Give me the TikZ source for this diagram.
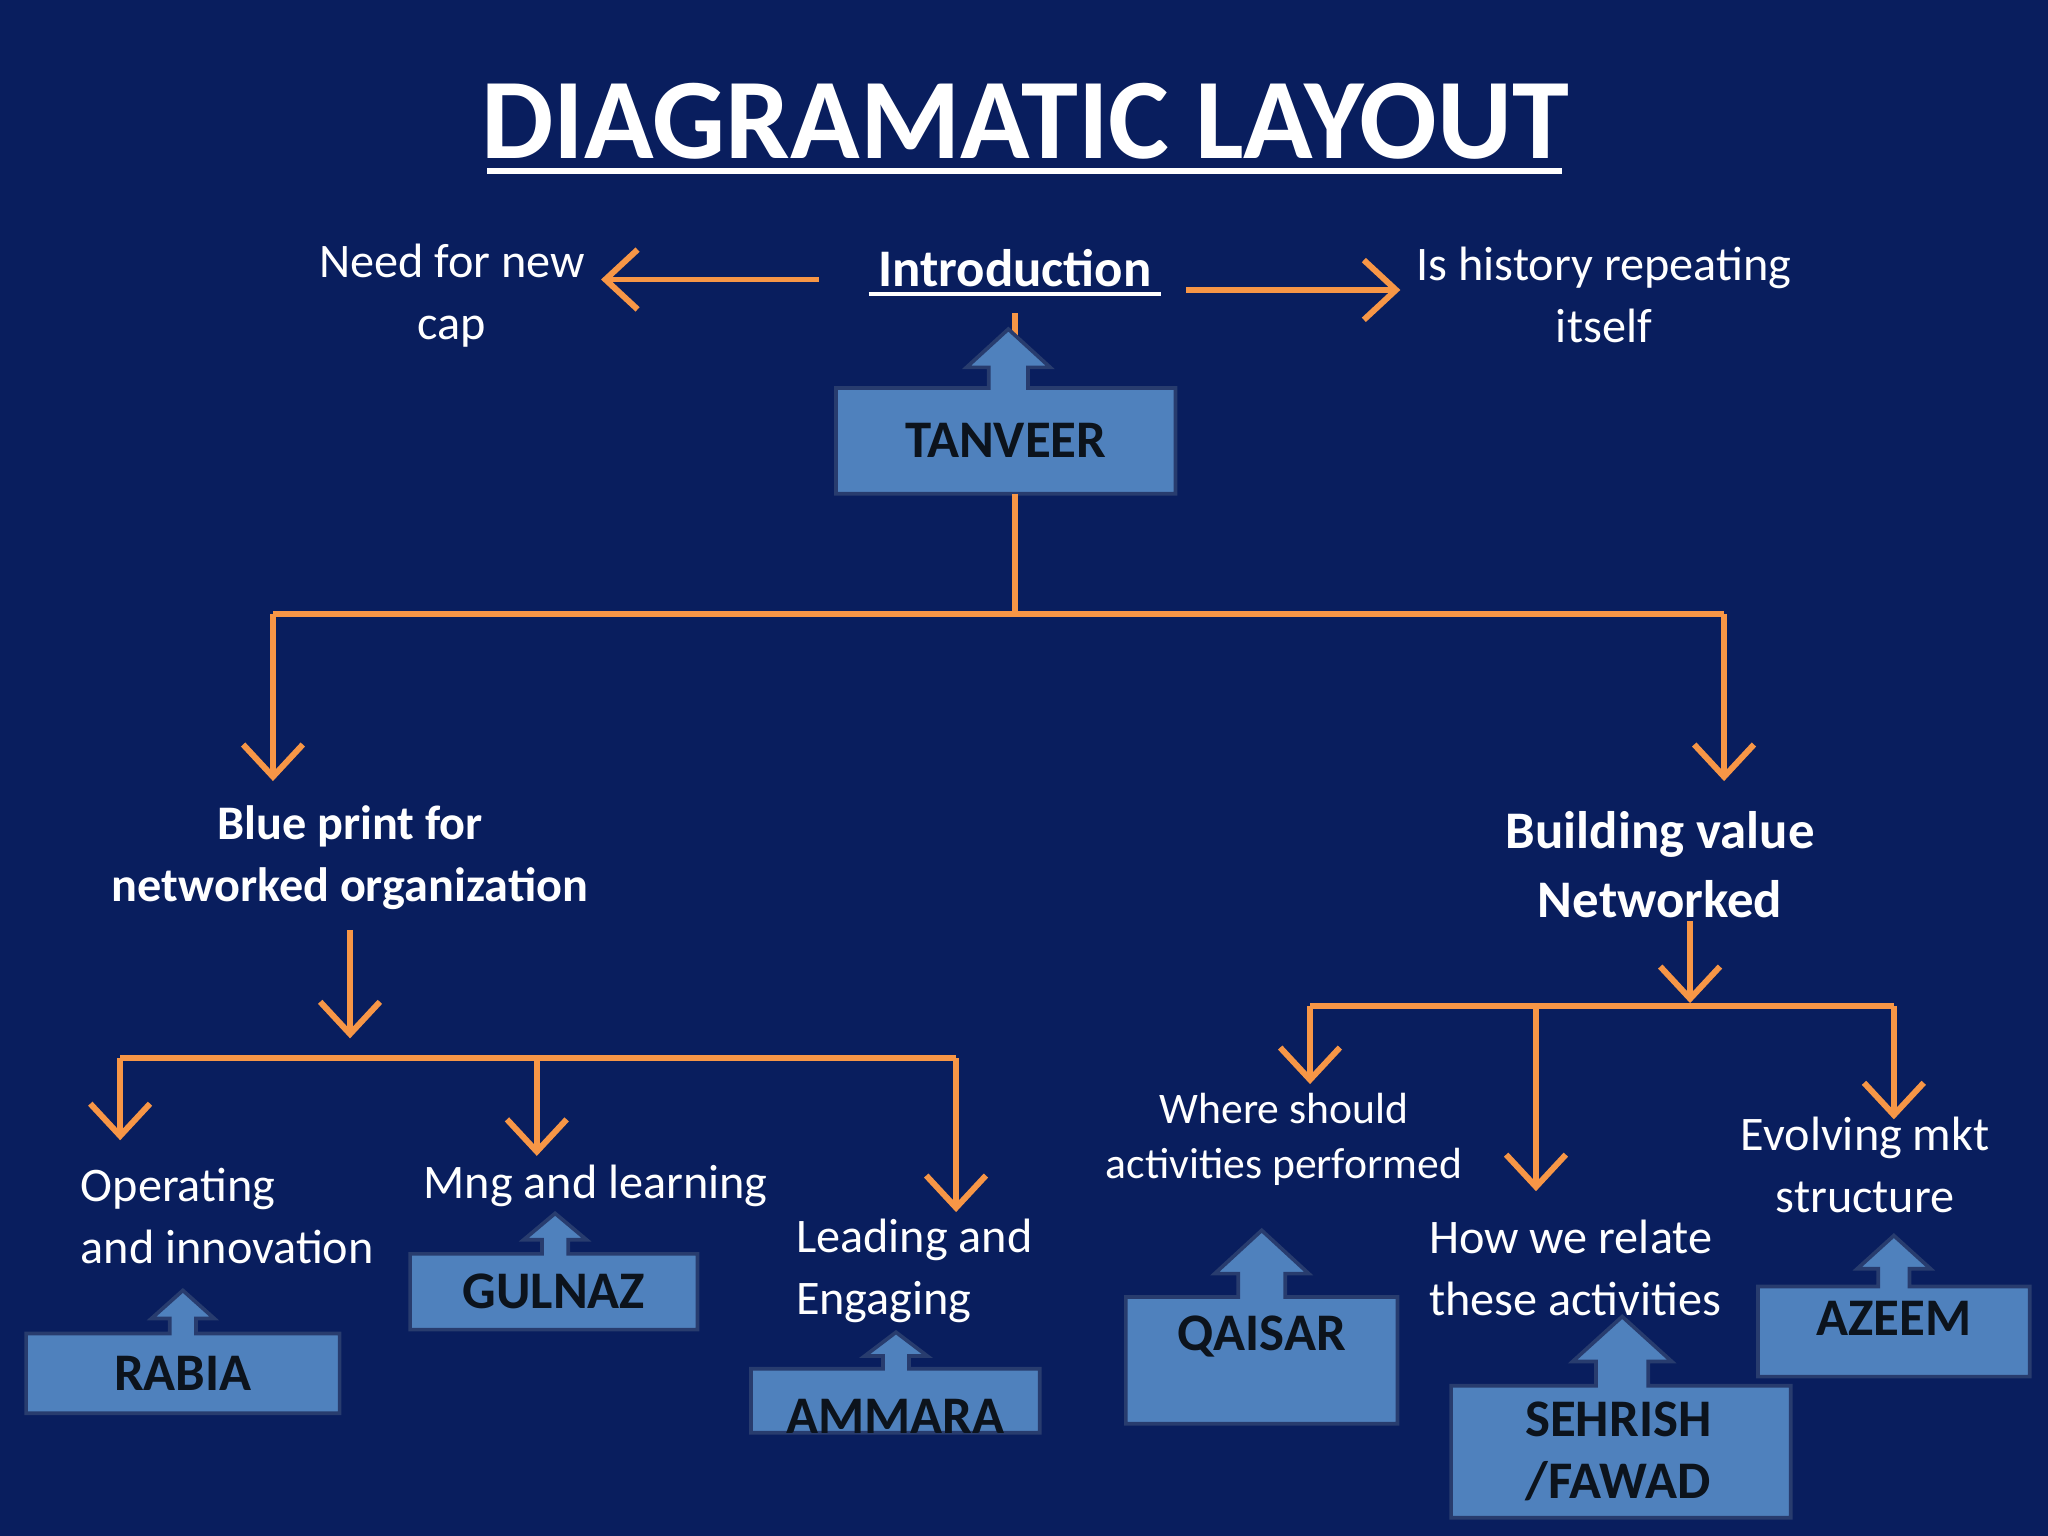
\documentclass[tikz,border=0pt]{standalone}
\usepackage{fontspec}
\setmainfont{Carlito}
\usetikzlibrary{arrows.meta}
\definecolor{bg}{RGB}{9,30,94}
\definecolor{org}{RGB}{247,150,70}
\definecolor{bx}{RGB}{79,129,189}
\definecolor{bxd}{RGB}{40,60,110}
\newcommand\upbox[9]{% name, x1,y1,x2,y2, cx, stemhalf, headhalf, tip ; headbase = y1 - (y1-tip)/3
  \draw[bxfill] (#2,#3) -- (#6-#7,#3) -- (#6-#7,{#3-(#3-#9)*0.35}) -- (#6-#8,{#3-(#3-#9)*0.35}) -- (#6,#9) -- (#6+#8,{#3-(#3-#9)*0.35}) -- (#6+#7,{#3-(#3-#9)*0.35}) -- (#6+#7,#3) -- (#4,#3) -- (#4,#5) -- (#2,#5) -- cycle;
  \node[boxtxt] (#1) at ({(#2+#4)/2},{(#3+#5)/2}) {};}
\begin{document}
\begin{tikzpicture}[x=0.01cm,y=-0.01cm,
  bxfill/.style={fill=bx,draw=bxd,line width=0.8pt},
  boxtxt/.style={inner sep=0pt},
  lab/.style={text=black!85!bx,font=\bfseries\fontsize{11.5}{14}\selectfont},
  conn/.style={draw=org,line width=1.3pt},
  arr/.style={conn,-{Straight Barb[length=7pt,width=13pt,line width=1.3pt]}},
  txt/.style={text=white,align=center,font=\fontsize{10.5}{13.5}\selectfont},
  btxt/.style={text=white,align=center,font=\bfseries\fontsize{10.5}{13.5}\selectfont}]
\fill[bg] (0,0) rectangle (1568,1176);
\node[text=white,font=\bfseries\fontsize{25}{30}\selectfont] (title) at (785,93) {DIAGRAMATIC LAYOUT};
\draw[white,line width=1.2pt] (373,131) -- (1196,131);
\node[btxt,font=\bfseries\fontsize{11.5}{14}\selectfont] (intro) at (777,205) {Introduction};
\draw[white,line width=0.8pt] (665,225) -- (889,225);
\node[txt] (need) at (346,226) {Need for new\\cap};
\node[txt] (hist) at (1228,226) {Is history repeating\\itself};
\coordinate (il) at (627,214); \coordinate (ir) at (908,222);
\draw[arr] (il) -- (need.east|-il);
\draw[arr] (ir) -- (hist.west|-ir);
\draw[conn] (777,240) -- (777,260);
\upbox{tanveer}{640}{297}{900}{378}{772}{15}{32}{252}
\node[lab] at (tanveer) {TANVEER};
\coordinate (t0) at (777,378); \coordinate (t1) at (777,470);
\coordinate (hl) at (209,470); \coordinate (hr) at (1320,470);
\draw[conn] (t0) -- (t1);
\draw[conn] (hl) -- (hr);
\node[btxt] (blue) at (268,657) {Blue print for\\networked organization};
\node[btxt,font=\bfseries\fontsize{11.5}{15}\selectfont] (build) at (1271,662) {Building value\\Networked};
\draw[arr] (hl) -- (209,598);
\draw[arr] (hr) -- (1320,598);
% left branch
\coordinate (b0) at (268,712); \coordinate (b1) at (268,795);
\draw[arr] (b0) -- (b1);
\coordinate (l1) at (92,810); \coordinate (l2) at (411,810); \coordinate (l3) at (732,810);
\draw[conn] (l1) -- (l3);
\draw[arr] (l1) -- (92,873);
\draw[arr] (l2) -- (411,885);
\draw[arr] (l3) -- (732,928);
\node[txt,align=left] (op) at (174,931) {Operating\\and innovation};
\node[txt] (mng) at (456,908) {Mng and learning};
\node[txt,align=left] (lead) at (700,973) {Leading and\\Engaging};
\upbox{rabia}{20}{1021}{260}{1082}{140}{10}{24}{988}
\node[lab] at (rabia) {RABIA};
\upbox{gulnaz}{314}{960}{534}{1018}{425}{10}{24}{929}
\node[lab] at (gulnaz) {GULNAZ};
\upbox{ammara}{575}{1048}{796}{1097}{686}{10}{24}{1020}
\node[lab] at ([yshift=-0.12cm]ammara) {AMMARA};
% right branch
\coordinate (c0) at (1294,705); \coordinate (c1) at (1294,768);
\draw[arr] (c0) -- (c1);
\coordinate (r1) at (1003,770); \coordinate (r2) at (1176,770); \coordinate (r3) at (1450,770);
\draw[conn] (r1) -- (r3);
\draw[arr] (r1) -- (1003,830);
\draw[arr] (r2) -- (1176,912);
\draw[arr] (r3) -- (1450,857);
\node[txt,font=\fontsize{9.5}{12}\selectfont] (where) at (983,872) {Where should\\activities performed};
\node[txt,align=left] (how) at (1206,971) {How we relate\\these activities};
\node[txt] (evo) at (1428,892) {Evolving mkt\\structure};
\upbox{qaisar}{862}{993}{1070}{1090}{966}{18}{36}{942}
\node[lab] at ([yshift=0.18cm]qaisar) {QAISAR};
\upbox{sehrish}{1111}{1061}{1371}{1162}{1242}{20}{38}{1008}
\node[lab,align=center,font=\bfseries\fontsize{11.5}{13.5}\selectfont] at ([xshift=-0.02cm]sehrish) {SEHRISH\\/FAWAD};
\upbox{azeem}{1346}{985}{1554}{1054}{1450}{12}{28}{946}
\node[lab] at ([yshift=0.1cm]azeem) {AZEEM};
\end{tikzpicture}
\end{document}
